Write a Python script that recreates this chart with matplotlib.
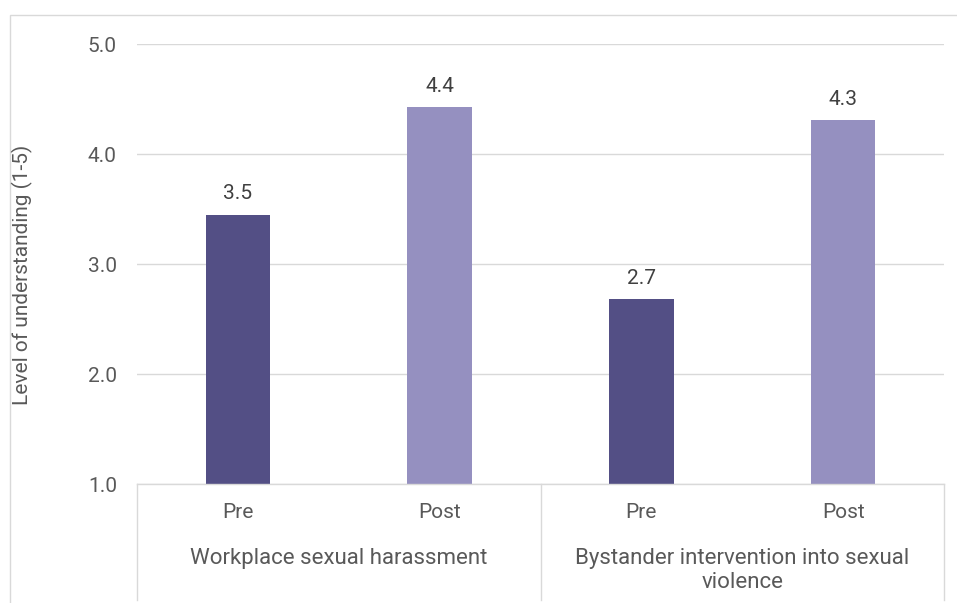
import matplotlib.pyplot as plt
from matplotlib.lines import Line2D
from matplotlib.patches import Rectangle

# data
groups = ["Workplace sexual harassment", "Bystander intervention into sexual\nviolence"]
phases = ["Pre", "Post"]
values = [3.45, 4.43, 2.68, 4.31]
labels = ["3.5", "4.4", "2.7", "4.3"]
colors = ["#534F85", "#9590C0", "#534F85", "#9590C0"]

plt.rcParams['font.family'] = ['Roboto', 'DejaVu Sans']
FS = 15
GREY = '#595959'

fig = plt.figure(figsize=(9.57, 6.03), dpi=100)
W, H = 957, 603
left, right, bottom, top = 137, 944, 484, 44
ax = fig.add_axes([left / W, 1 - bottom / H, (right - left) / W, (bottom - top) / H])

x = list(range(len(values)))
ax.bar(x, [v - 1 for v in values], bottom=1, width=0.32, color=colors, zorder=3)
for xi, v, lab in zip(x, values, labels):
    ax.text(xi, v + 0.1, lab, ha='center', va='bottom', fontsize=FS, color='#404040')

ax.set_xlim(-0.5, len(values) - 0.5)
ax.set_ylim(1, 5)
ax.set_yticks([1, 2, 3, 4, 5])
ax.set_yticklabels(["1.0", "2.0", "3.0", "4.0", "5.0"])
ax.tick_params(axis='y', length=0, pad=14.5, labelsize=FS, labelcolor=GREY)
ax.set_xticks([])
ax.grid(axis='y', color='#D9D9D9', linewidth=1, zorder=0)
for s in ax.spines.values():
    s.set_visible(False)
fig.text(22 / W, 1 - 275 / H, "Level of understanding (1-5)", rotation=90,
         ha='center', va='center', fontsize=FS, color=GREY)

# category axis
line_kw = dict(color='#D9D9D9', linewidth=1)
fig.add_artist(Line2D([left / W, right / W], [1 - bottom / H] * 2, **line_kw))
for xp in [left, 541, right]:
    fig.add_artist(Line2D([xp / W] * 2, [1 - bottom / H, 1 - 600 / H], **line_kw))

trans = ax.get_xaxis_transform()
for i, xi in enumerate(x):
    ax.text(xi, (bottom - 513) / (bottom - top), phases[i % 2], transform=trans,
            ha='center', va='center', fontsize=FS, color=GREY)
for g, name in enumerate(groups):
    ax.text(2 * g + 0.5, (bottom - 548) / (bottom - top), name, transform=trans,
            ha='center', va='top', fontsize=16, color=GREY, linespacing=1.2)

# outer chart border
fig.add_artist(Rectangle((10 / W, -0.1), 1.2, 1 - 15 / H + 0.1, transform=fig.transFigure,
                         fill=False, edgecolor='#D9D9D9', linewidth=1))

fig.savefig("out.png", dpi=100)
